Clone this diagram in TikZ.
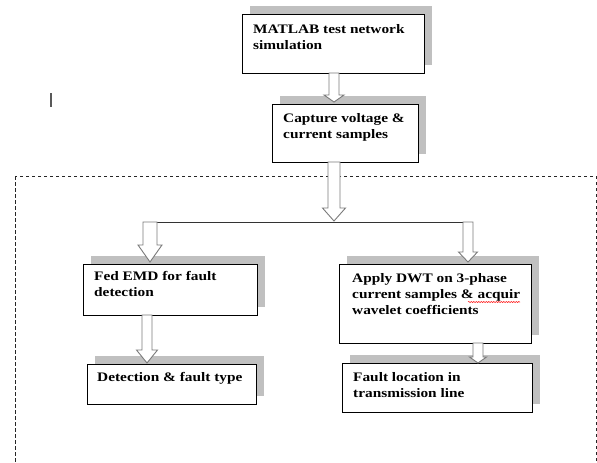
\documentclass[tikz,border=0pt]{standalone}
\usepackage{fontspec}
\setmainfont{Liberation Serif}[FakeStretch=1.18]
\usetikzlibrary{calc,shadows,decorations.pathmorphing}
\definecolor{shadegray}{HTML}{C0C0C0}
\definecolor{arrowgray}{HTML}{7A7A7A}
\tikzset{
  stepbox/.style={draw=black, line width=0.8pt, fill=white, inner sep=0pt, outer sep=0pt,
    anchor=north west,
    drop shadow={shadow xshift=8pt, shadow yshift=8pt, fill=shadegray, opacity=1}},
  % anchored at the baseline of the last line
  boxtext/.style={anchor=base west, inner sep=0pt, align=left,
    font=\fontsize{13}{16}\selectfont\bfseries},
  blockarrow/.style={draw=arrowgray, line width=0.9pt, fill=white, line join=miter},
  forkline/.style={draw=black!80, line width=0.8pt},
  frame/.style={draw=black!85, line width=0.8pt, dash pattern=on 3.5pt off 2.5pt},
}
% hollow block arrow: #1 tail, #2 tip, #3 half shaft width, #4 half head width, #5 head length
\newcommand\blockarrow[5]{%
  \draw[blockarrow] ($(#1)+(-#3,0)$) -- ($(#2)+(-#3,-#5)$) -- ($(#2)+(-#4,-#5)$) -- (#2)
    -- ($(#2)+(#4,-#5)$) -- ($(#2)+(#3,-#5)$) -- ($(#1)+(#3,0)$) -- cycle;}
\begin{document}
\begin{tikzpicture}[x=1pt,y=-1pt]
\useasboundingbox (0,0) rectangle (597,463);

% dashed frame around the analysis stage
\draw[frame] (15,176) rectangle (596,490);

% stray cursor mark
\draw[line width=1.4pt, black!65] (51,93) -- (51,107);

% boxes
\node[stepbox, minimum width=182pt, minimum height=59pt] (b1) at (242,14) {};
\node[stepbox, minimum width=146pt, minimum height=58pt] (b2) at (272,104) {};
\node[stepbox, minimum width=174pt, minimum height=51pt] (b3) at (83,264) {};
\node[stepbox, minimum width=192pt, minimum height=79pt] (b4) at (339,264) {};
\node[stepbox, minimum width=169pt, minimum height=40pt] (b5) at (87,364) {};
\node[stepbox, minimum width=190pt, minimum height=49pt] (b6) at (342,363) {};

% box texts
\node[boxtext] (t1) at (253,49) {MATLAB test network\\simulation};
\node[boxtext] (t2) at (283,138.7) {Capture voltage \&\\current samples};
\node[boxtext] (t3) at (94,296.7) {Fed EMD for fault\\detection};
\node[boxtext] (t4) at (352,314.7) {Apply DWT on 3-phase\\current samples \& acquir\\wavelet coefficients};
\node[boxtext] (t5) at (97,381) {Detection \& fault type};
\node[boxtext] (t6) at (353,397) {Fault location in\\transmission line};

% spell-check squiggle
\draw[red, line width=0.5pt, decorate, decoration={snake, amplitude=0.6pt, segment length=2.5pt}]
  (468,302) -- (520,302);

% arrow anchor points
\coordinate (a1s) at ($(b1.south)+(1,0)$);
\coordinate (a1t) at ($(a1s |- b2.north)+(0,-2)$);
\coordinate (a2s) at ($(b2.south west)+(62,0)$);
\coordinate (fork) at ($(a2s)+(0,60)$);
\coordinate (a2t) at ($(fork)+(0,-1)$);
\coordinate (forkL) at ($(fork -| b3.north west)+(67,0)$);
\coordinate (forkR) at ($(fork -| b4.north west)+(129,0)$);
\coordinate (a3t) at ($(forkL |- b3.north)+(0,-2)$);
\coordinate (a4t) at ($(forkR |- b4.north)+(0,-2)$);
\coordinate (a5s) at ($(b3.south west)+(64,0)$);
\coordinate (a5t) at ($(a5s |- b5.north)+(0,-1)$);
\coordinate (a6s) at ($(b4.south west)+(139,0)$);
\coordinate (a6t) at (a6s |- b6.north);

% fork line
\draw[forkline] ($(forkL)+(-7,0)$) -- ($(forkR)+(5,0)$);

% arrows
\blockarrow{a1s}{a1t}{5}{10}{7}
\blockarrow{a2s}{a2t}{6}{11.5}{13}
\blockarrow{forkL}{a3t}{7}{12}{17}
\blockarrow{forkR}{a4t}{5}{9.5}{10}
\blockarrow{a5s}{a5t}{5}{10.5}{13}
\blockarrow{a6s}{a6t}{5}{8.5}{6}
\end{tikzpicture}
\end{document}
